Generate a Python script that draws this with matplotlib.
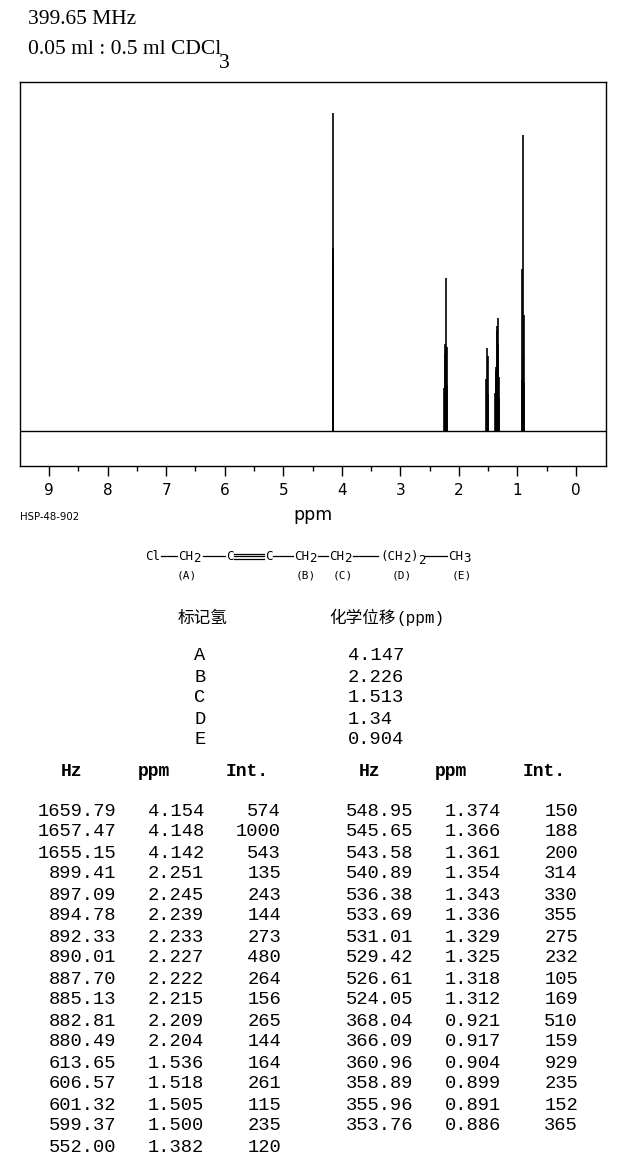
import matplotlib
matplotlib.use("Agg")
import matplotlib.pyplot as plt
from matplotlib.lines import Line2D

# peak list (Hz, ppm, intensity)
hz = [1659.79, 1657.47, 1655.15, 899.41, 897.09, 894.78, 892.33, 890.01, 887.70,
      885.13, 882.81, 880.49, 613.65, 606.57, 601.32, 599.37, 552.00,
      548.95, 545.65, 543.58, 540.89, 536.38, 533.69, 531.01, 529.42, 526.61,
      524.05, 368.04, 366.09, 360.96, 358.89, 355.96, 353.76]
ppm = [4.154, 4.148, 4.142, 2.251, 2.245, 2.239, 2.233, 2.227, 2.222,
       2.215, 2.209, 2.204, 1.536, 1.518, 1.505, 1.500, 1.382,
       1.374, 1.366, 1.361, 1.354, 1.343, 1.336, 1.329, 1.325, 1.318,
       1.312, 0.921, 0.917, 0.904, 0.899, 0.891, 0.886]
ints = [574, 1000, 543, 135, 243, 144, 273, 480, 264,
        156, 265, 144, 164, 261, 115, 235, 120,
        150, 188, 200, 314, 330, 355, 275, 232, 105,
        169, 510, 159, 929, 235, 152, 365]

# assignments
labels = ["A", "B", "C", "D", "E"]
shifts = ["4.147", "2.226", "1.513", "1.34", "0.904"]

ticks = list(range(0, 10))

W, H = 626, 1162


def fx(x):
    return x / W


def fy(y):
    return 1 - y / H


fig = plt.figure(figsize=(W / 100, H / 100), dpi=100)

# header
serif = "Liberation Serif"
fig.text(fx(28), fy(19), "399.65 MHz", family=serif, fontsize=15.5, va="center")
t2 = fig.text(fx(28), fy(50), "0.05 ml : 0.5 ml CDCl", family=serif, fontsize=15.5, va="center")
fig.canvas.draw()
bb = t2.get_window_extent(fig.canvas.get_renderer())
fig.text(bb.x1 / W - 0.003, fy(63), "3", family=serif, fontsize=15.5, va="center")

# spectrum
ax = fig.add_axes([fx(20), fy(466), (606 - 20) / W, (466 - 82) / H])
ax.vlines(ppm, 0, ints, color="black", lw=1.2)
ax.axhline(0, color="black", lw=1.0)
ax.set_xlim(9.495, -0.512)
ax.set_ylim(-110, 1097)
ax.set_yticks([])
ax.set_xticks(ticks)
ax.set_xticks([t + 0.5 for t in ticks[:-1]], minor=True)
ax.tick_params(axis="x", which="major", direction="out", length=7.2, width=1,
               pad=5, labelsize=11)
ax.tick_params(axis="x", which="minor", direction="out", length=3.6, width=1)
for s in ax.spines.values():
    s.set_linewidth(1.0)

fig.text(fx(313), fy(515), "ppm", family="DejaVu Sans", fontsize=12.5, ha="center", va="center")
fig.text(fx(20), fy(517), "HSP-48-902", family="DejaVu Sans", fontsize=7.3, va="center")

# structure
mono = "DejaVu Sans Mono"
sy = 556
pieces = [("Cl", 145, 0), ("CH", 178, 0), ("2", 193, 3), ("C", 226, 0), ("C", 265, 0),
          ("CH", 294, 0), ("2", 309, 3), ("CH", 329, 0), ("2", 344, 3),
          ("(CH", 380, 0), ("2", 403, 3), (")", 411, 0), ("2", 418, 5),
          ("CH", 448, 0), ("3", 463, 3)]
for txt, x, dy in pieces:
    fig.text(fx(x), fy(sy + dy), txt, family=mono, fontsize=9, va="center")
bonds = [(161, 177), (203, 225), (273, 293), (318, 328), (353, 378), (424, 447)]
for x0, x1 in bonds:
    fig.add_artist(Line2D([fx(x0), fx(x1)], [fy(sy), fy(sy)], color="black", lw=0.9))
for dy in (-2.5, 0, 2.5):
    fig.add_artist(Line2D([fx(234), fx(264)], [fy(sy + dy), fy(sy + dy)], color="black", lw=0.9))
for lab, x in zip(["(A)", "(B)", "(C)", "(D)", "(E)"], [187, 306, 343, 402, 462]):
    fig.text(fx(x), fy(576), lab, family=mono, fontsize=8, ha="center", va="center")

# assignment table
cjk = ["Noto Sans CJK SC", "DejaVu Sans"]
fig.text(fx(203), fy(618), "标记氢", family=cjk, fontsize=12, ha="center", va="center")
fig.text(fx(329), fy(618), "化学位移", family=cjk, fontsize=12, va="center")
fig.text(fx(396), fy(618), "(ppm)", family="Liberation Mono", fontsize=11.5, va="center")
for i, (lab, sh) in enumerate(zip(labels, shifts)):
    y = 656 + 21 * i
    fig.text(fx(200), fy(y), lab, family="Liberation Mono", fontsize=13.5, ha="center", va="center")
    fig.text(fx(348), fy(y), sh, family="Liberation Mono", fontsize=13.5, va="center")

# peak table, two blocks
blocks = [(0, 17, 0), (17, len(hz), 297)]
for start, stop, off in blocks:
    for name, xc in [("Hz", 72), ("ppm", 154), ("Int.", 247)]:
        fig.text(fx(xc + off), fy(771), name, family="Liberation Mono", fontsize=13,
                 weight="bold", ha="center", va="center")
    for r, i in enumerate(range(start, stop)):
        y = 811 + 21 * r
        fig.text(fx(116 + off), fy(y), f"{hz[i]:.2f}", family="Liberation Mono",
                 fontsize=13.5, ha="right", va="center")
        fig.text(fx(204 + off), fy(y), f"{ppm[i]:.3f}", family="Liberation Mono",
                 fontsize=13.5, ha="right", va="center")
        fig.text(fx(281 + off), fy(y), f"{ints[i]}", family="Liberation Mono",
                 fontsize=13.5, ha="right", va="center")

fig.savefig("out.png", dpi=100)
